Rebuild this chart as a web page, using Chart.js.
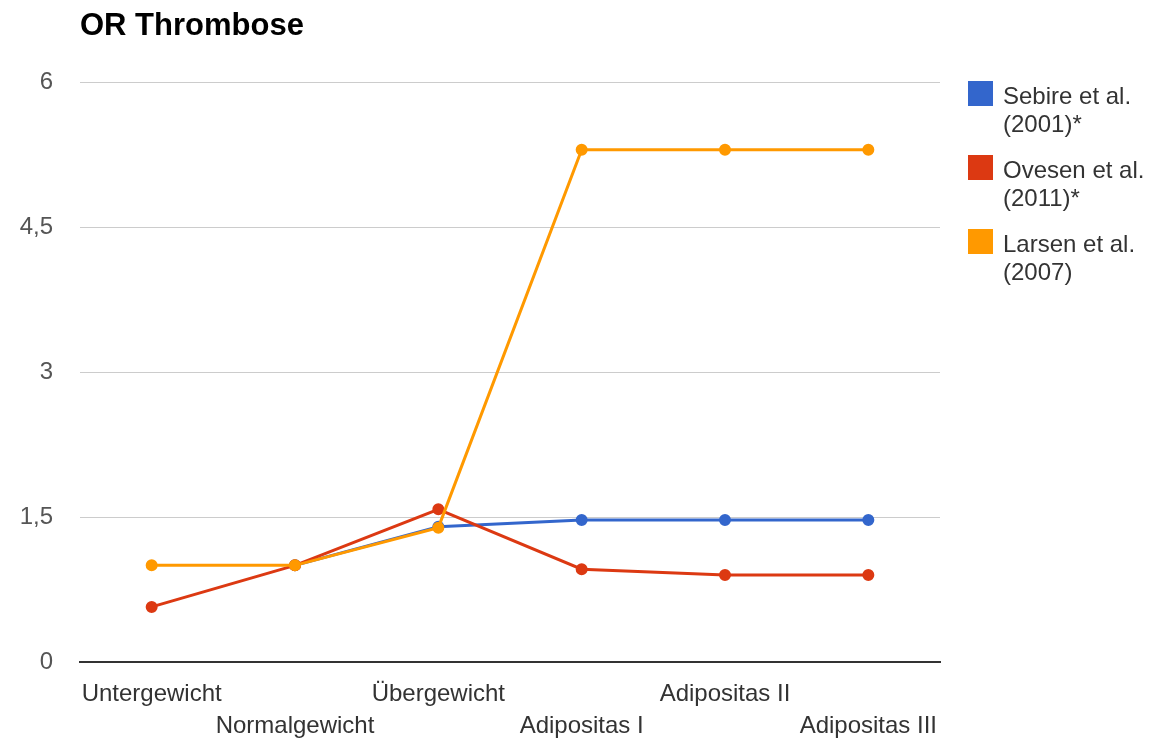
<!DOCTYPE html>
<html>
<head>
<meta charset="utf-8">
<script src="https://cdn.jsdelivr.net/npm/chart.js@4"></script>
<style>
  body { margin: 0; background: #fff; }
  #wrap { position: relative; width: 1153px; height: 743px; }
  #legend { position: absolute; left: 968px; top: 82px; font: 24px "Liberation Sans", Arial, sans-serif; color: #333; }
  .item { position: relative; width: 150px; padding-left: 35px; line-height: 28px; height: 74px; }
  .box { position: absolute; left: 0; top: -1px; width: 25px; height: 25px; }
</style>
</head>
<body>
<div id="wrap">
  <canvas id="chart" width="1153" height="743"></canvas>
  <div id="legend"></div>
</div>
<script>
const chartTitle = "OR Thrombose";
const categories = [
  ["Untergewicht", ""],
  ["", "Normalgewicht"],
  ["Übergewicht", ""],
  ["", "Adipositas I"],
  ["Adipositas II", ""],
  ["", "Adipositas III"]
];
const seriesNames = ["Sebire et al. (2001)*", "Ovesen et al. (2011)*", "Larsen et al. (2007)"];
const seriesColors = ["#3366cc", "#dc3912", "#ff9900"];
const sebire = [null, 1.0, 1.4, 1.47, 1.47, 1.47];
const ovesen = [0.57, 1.0, 1.58, 0.96, 0.9, 0.9];
const larsen = [1.0, 1.0, 1.39, 5.3, 5.3, 5.3];
const yTicks = [0, 1.5, 3, 4.5, 6];

const font = '"Liberation Sans", Arial, sans-serif';

const titlePlugin = {
  id: "titleText",
  afterDraw(chart) {
    const c = chart.ctx;
    c.save();
    c.font = "bold 31px " + font;
    c.fillStyle = "#000";
    c.textBaseline = "alphabetic";
    c.fillText(chartTitle, chart.chartArea.left, 35);
    c.restore();
  }
};

function makeSet(i, data, order) {
  return {
    label: seriesNames[i],
    data: data,
    borderColor: seriesColors[i],
    backgroundColor: seriesColors[i],
    borderWidth: 3,
    pointRadius: 4.5,
    pointHoverRadius: 5,
    tension: 0,
    order: order
  };
}

const chart = new Chart(document.getElementById("chart").getContext("2d"), {
  type: "line",
  data: {
    labels: categories,
    datasets: [makeSet(0, sebire, 3), makeSet(1, ovesen, 2), makeSet(2, larsen, 1)]
  },
  options: {
    responsive: false,
    animation: false,
    layout: { padding: { top: 82, right: 213, left: 0, bottom: 0 } },
    plugins: { legend: { display: false }, title: { display: false }, tooltip: { enabled: false } },
    scales: {
      x: {
        offset: true,
        grid: { display: false, drawTicks: false },
        border: { display: true, color: "#333", width: 2 },
        ticks: {
          autoSkip: false, maxRotation: 0, padding: 16, color: "#333",
          font: { family: font, size: 24, lineHeight: "32px" }
        },
        afterFit: s => { s.height = 81; }
      },
      y: {
        min: 0, max: 6,
        afterBuildTicks: s => { s.ticks = yTicks.map(v => ({ value: v })); },
        grid: { color: c => (c.tick && c.tick.value === 0 ? "#333" : "#ccc"), drawTicks: false },
        border: { display: false },
        ticks: {
          padding: 27, color: "#555",
          font: { family: font, size: 24 },
          callback: v => String(v).replace(".", ",")
        },
        afterFit: s => { s.width = 80; }
      }
    }
  },
  plugins: [titlePlugin]
});

const legend = document.getElementById("legend");
chart.data.datasets.forEach(ds => {
  const item = document.createElement("div");
  item.className = "item";
  const box = document.createElement("span");
  box.className = "box";
  box.style.background = ds.borderColor;
  item.appendChild(box);
  item.appendChild(document.createTextNode(ds.label));
  legend.appendChild(item);
});
</script>
</body>
</html>
